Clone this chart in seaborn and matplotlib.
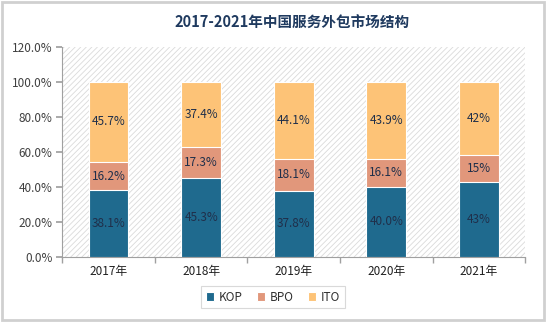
import matplotlib
matplotlib.use("Agg")
import matplotlib.pyplot as plt
import seaborn as sns
import pandas as pd
import numpy as np
from matplotlib.patches import Rectangle

years = ["2017年", "2018年", "2019年", "2020年", "2021年"]
kop = [38.1, 45.3, 37.8, 40.0, 43.0]
bpo = [16.2, 17.3, 18.1, 16.1, 15.0]
ito = [45.7, 37.4, 44.1, 43.9, 42.0]
kop_labels = ["38.1%", "45.3%", "37.8%", "40.0%", "43%"]
bpo_labels = ["16.2%", "17.3%", "18.1%", "16.1%", "15%"]
ito_labels = ["45.7%", "37.4%", "44.1%", "43.9%", "42%"]
yticks = [0, 20, 40, 60, 80, 100, 120]

sns.set_theme(style="white")
plt.rcParams['font.family'] = ['Noto Sans CJK SC', 'DejaVu Sans']
plt.rcParams['hatch.linewidth'] = 0.6
plt.rcParams['hatch.color'] = '#D9D9D9'

c_kop = "#1F6A8E"
c_bpo = "#E1977B"
c_ito = "#FDC377"

df = pd.DataFrame({"year": years, "kop": kop, "bpo": bpo, "ito": ito})
df["kb"] = df["kop"] + df["bpo"]
df["total"] = df["kb"] + df["ito"]

fig = plt.figure(figsize=(5.46, 3.22), dpi=100)
fig.patch.set_facecolor("white")
fig.add_artist(Rectangle((0.003, 0.005), 0.994, 0.99, transform=fig.transFigure,
                         fill=False, edgecolor="#D0D0D0", linewidth=2))
ax = fig.add_axes([0.114, 0.202, 0.848, 0.652])

w = 0.43
sns.barplot(data=df, x="year", y="total", color=c_ito, width=w, ax=ax,
            edgecolor="white", linewidth=0.8, saturation=1, label="ITO", zorder=3)
sns.barplot(data=df, x="year", y="kb", color=c_bpo, width=w, ax=ax,
            edgecolor="white", linewidth=0.8, saturation=1, label="BPO", zorder=3)
sns.barplot(data=df, x="year", y="kop", color=c_kop, width=w, ax=ax,
            edgecolor="white", linewidth=0.8, saturation=1, label="KOP", zorder=3)

handles, labels = ax.get_legend_handles_labels()
if ax.get_legend() is not None:
    ax.get_legend().remove()

ax.add_patch(Rectangle((0, 0), 1, 1, transform=ax.transAxes, facecolor="white",
                       edgecolor="#DADADA", hatch="//////", linewidth=0, zorder=0))

lab_color = "#1F2F4A"
for i in range(len(years)):
    ax.text(i, kop[i] / 2, kop_labels[i], ha="center", va="center", fontsize=8.5,
            color=lab_color, zorder=5)
    ax.text(i, kop[i] + bpo[i] / 2, bpo_labels[i], ha="center", va="center",
            fontsize=8.5, color=lab_color, zorder=5)
    ax.text(i, kop[i] + bpo[i] + ito[i] / 2, ito_labels[i], ha="center", va="center",
            fontsize=8.5, color=lab_color, zorder=5)

ax.set_ylim(0, 120)
ax.set_xlim(-0.5, len(years) - 0.5)
ax.set_yticks(yticks)
ax.set_yticklabels([f"{v:.1f}%" for v in yticks], fontsize=8.5, color="#404040")
ax.set_xticks(range(len(years)))
ax.set_xticklabels(years, fontsize=8.5, color="#202020")
ax.set_xlabel("")
ax.set_ylabel("")
ax.tick_params(axis="x", length=0, pad=6)
ax.tick_params(axis="y", length=4, color="#A0A0A0", direction="out", left=True, pad=3)
ax.set_xticks(np.arange(-0.5, len(years)), minor=True)
ax.tick_params(axis="x", which="minor", length=4, color="#A0A0A0", bottom=True)
for s in ["top", "right"]:
    ax.spines[s].set_visible(False)
for s in ["left", "bottom"]:
    ax.spines[s].set_color("#A0A0A0")
    ax.spines[s].set_linewidth(0.8)

fig.text(0.535, 0.93, "2017-2021年中国服务外包市场结构", ha="center", va="center",
         fontsize=10.5, fontweight="bold", color="#1F3A5F")

order = [labels.index(k) for k in ["KOP", "BPO", "ITO"]]
leg = fig.legend([handles[k] for k in order], [labels[k] for k in order],
                 loc="center", bbox_to_anchor=(0.5, 0.077), ncol=3, fontsize=8.5,
                 frameon=True, handlelength=0.7, handleheight=0.7, handletextpad=0.4,
                 columnspacing=1.2, borderpad=0.4, fancybox=False)
leg.get_frame().set_edgecolor("#D0D0D0")
leg.get_frame().set_linewidth(0.8)
for t in leg.get_texts():
    t.set_color("#303030")

fig.savefig("out.png", dpi=100)
